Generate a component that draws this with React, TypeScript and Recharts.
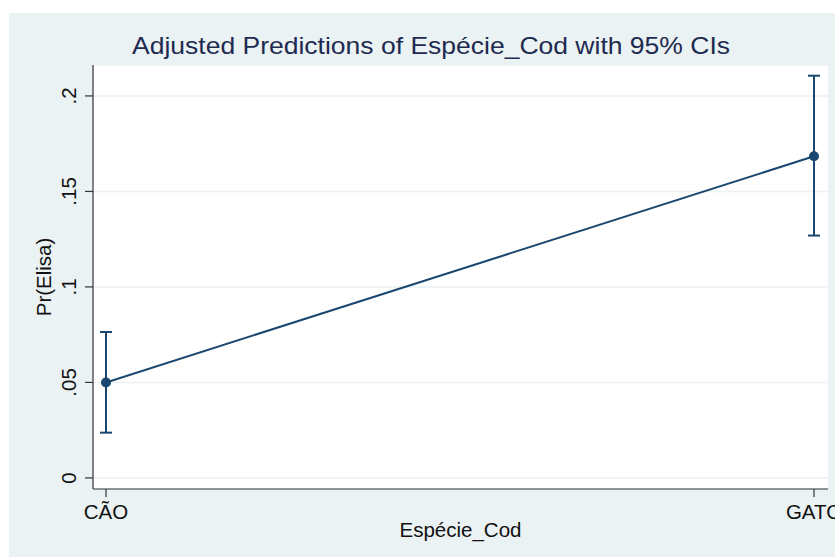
import React from "react";
import { ComposedChart, Line, XAxis, YAxis, CartesianGrid, ErrorBar, Label } from "recharts";

const categories = ["CÃO", "GATO"];
const predictions = [0.0500, 0.1684];
const ciLower = [0.0237, 0.1269];
const ciUpper = [0.0764, 0.2106];
const yTicks = [0, 0.05, 0.1, 0.15, 0.2];

const data = categories.map((c, i) => ({
  cat: c,
  pr: predictions[i],
  err: [predictions[i] - ciLower[i], ciUpper[i] - predictions[i]],
}));

const NAVY = "#1a476f";
const BG = "#EAF2F3";
const FONT = "'Liberation Sans', Arial, sans-serif";
const AXFS = 20.5;

const fmt = (v: number) => (v === 0 ? "0" : String(v).replace(/^0/, ""));

const YTick = (props: any) => {
  const { x, y, payload } = props;
  return (
    <text
      x={x}
      y={y}
      transform={`rotate(-90, ${x}, ${y})`}
      textAnchor="middle"
      fontSize={AXFS}
      fontFamily={FONT}
      fill="#111"
    >
      {fmt(payload.value)}
    </text>
  );
};

const YLabel = (props: any) => {
  const { viewBox } = props;
  const x = 51;
  const y = viewBox.y + viewBox.height / 2;
  return (
    <text
      x={x}
      y={y}
      transform={`rotate(-90, ${x}, ${y})`}
      textAnchor="middle"
      fontSize={AXFS}
      fontFamily={FONT}
      fill="#111"
    >
      Pr(Elisa)
    </text>
  );
};

export default function App() {
  return (
    <div style={{ position: "absolute", left: 0, top: 0, width: 835, height: 557, background: "#fff", overflow: "hidden" }}>
      <div style={{ position: "absolute", left: 9, top: 13, width: 826, height: 544, background: BG }} />
      <div style={{ position: "absolute", left: 0, top: 0 }}>
        <ComposedChart
          width={835}
          height={557}
          data={data}
          margin={{ top: 65, right: 7, bottom: 0, left: 0 }}
        >
          <CartesianGrid vertical={false} stroke={BG} strokeWidth={1.5} fill="#ffffff" />
          <XAxis
            dataKey="cat"
            type="category"
            scale="point"
            padding={{ left: 13, right: 14 }}
            height={68}
            tickSize={8}
            tickMargin={7}
            axisLine={{ stroke: "#333", strokeWidth: 1.2 }}
            tickLine={{ stroke: "#333", strokeWidth: 1.2 }}
            tick={{ fontSize: AXFS, fontFamily: FONT, fill: "#111" }}
            interval={0}
          >
            <Label
              value="Espécie_Cod"
              position="insideBottom"
              offset={20}
              style={{ fontSize: AXFS, fontFamily: FONT, fill: "#111" }}
            />
          </XAxis>
          <YAxis
            type="number"
            domain={[-0.0058, 0.2162]}
            ticks={yTicks}
            width={93}
            tickSize={8}
            tickMargin={9}
            axisLine={{ stroke: "#333", strokeWidth: 1.2 }}
            tickLine={{ stroke: "#333", strokeWidth: 1.2 }}
            tick={<YTick />}
            allowDataOverflow
          >
            <Label content={<YLabel />} />
          </YAxis>
          <Line
            dataKey="pr"
            stroke={NAVY}
            strokeWidth={2}
            dot={{ r: 5, fill: NAVY, stroke: NAVY, strokeWidth: 0 }}
            activeDot={false}
            isAnimationActive={false}
          >
            <ErrorBar dataKey="err" width={6} stroke={NAVY} strokeWidth={2} direction="y" isAnimationActive={false} />
          </Line>
          <text
            x={431}
            y={54}
            textAnchor="middle"
            fontSize={24.5}
            fontFamily={FONT}
            fill="#1e2a50"
            textLength={598}
            lengthAdjust="spacingAndGlyphs"
          >
            Adjusted Predictions of Espécie_Cod with 95% CIs
          </text>
        </ComposedChart>
      </div>
    </div>
  );
}
